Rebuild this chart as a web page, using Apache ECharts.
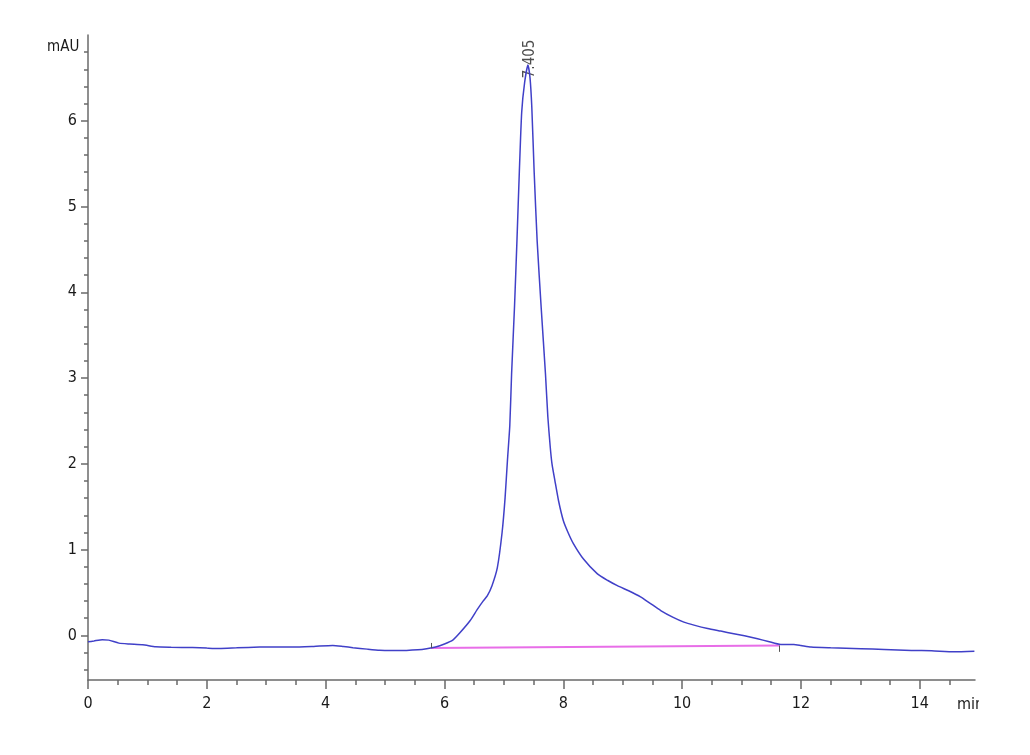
<!DOCTYPE html>
<html><head><meta charset="utf-8">
<script src="https://cdn.jsdelivr.net/npm/echarts@6/dist/echarts.min.js"></script>
<style>html,body{margin:0;padding:0;background:#fff}#c{width:1030px;height:755px}</style>
</head><body><div id="c"></div>
<script>
// ---- data ----
const timeMin = [0.00,0.10,0.24,0.35,0.52,0.70,0.92,1.14,1.40,1.76,2.00,2.21,2.50,2.89,3.20,3.45,3.80,4.12,4.30,4.46,4.70,4.91,5.10,5.36,5.55,5.70,5.85,6.00,6.14,6.26,6.43,6.55,6.65,6.72,6.80,6.89,6.97,7.02,7.06,7.10,7.13,7.18,7.22,7.26,7.30,7.35,7.405,7.44,7.47,7.51,7.56,7.63,7.70,7.74,7.78,7.81,7.86,7.92,8.00,8.08,8.17,8.34,8.57,8.75,8.91,9.10,9.30,9.45,9.64,9.85,10.03,10.20,10.43,10.65,10.87,11.05,11.27,11.45,11.66,11.88,12.00,12.17,12.50,13.01,13.40,13.86,14.20,14.58,14.92];
const signalMAU = [-0.075,-0.065,-0.05,-0.055,-0.09,-0.10,-0.108,-0.132,-0.138,-0.142,-0.148,-0.152,-0.145,-0.136,-0.135,-0.136,-0.128,-0.118,-0.13,-0.143,-0.16,-0.173,-0.176,-0.175,-0.168,-0.155,-0.135,-0.10,-0.055,0.03,0.17,0.30,0.40,0.46,0.58,0.79,1.20,1.60,2.04,2.45,3.05,3.85,4.60,5.40,6.10,6.45,6.65,6.50,6.16,5.40,4.60,3.80,3.05,2.55,2.20,2.00,1.80,1.57,1.34,1.20,1.07,0.89,0.72,0.64,0.58,0.52,0.45,0.38,0.29,0.21,0.155,0.12,0.08,0.05,0.02,-0.005,-0.04,-0.07,-0.105,-0.105,-0.117,-0.136,-0.145,-0.155,-0.163,-0.175,-0.18,-0.192,-0.185];
const baselineTime = [5.77, 11.64];
const baselineMAU = [-0.148, -0.117];
const peakTime = 7.405;
const peakLabelMAU = 6.49;
const peakText = '7.405';
const xMajorTicks = [0,2,4,6,8,10,12,14];
const xMinorTicks = [0.5,1,1.5,2.5,3,3.5,4.5,5,5.5,6.5,7,7.5,8.5,9,9.5,10.5,11,11.5,12.5,13,13.5,14.5];
const yMajorTicks = [0,1,2,3,4,5,6];
const yMinorTicks = [-0.4,-0.2,0.2,0.4,0.6,0.8,1.2,1.4,1.6,1.8,2.2,2.4,2.6,2.8,3.2,3.4,3.6,3.8,4.2,4.4,4.6,4.8,5.2,5.4,5.6,5.8,6.2,6.4,6.6,6.8];
const xRange = [0, 14.93];
const yRange = [-0.52, 7];
const yUnit = 'mAU';
const xUnit = 'min';

const FONT = '"Liberation Sans Narrow","DejaVu Sans Condensed","Liberation Sans",Arial,sans-serif';
const AX = '#6a6a6a';
const chart = echarts.init(document.getElementById('c'), null, {renderer:'canvas'});
const trace = timeMin.map((t,i)=>[t, signalMAU[i]]);
const baseline = baselineTime.map((t,i)=>[t, baselineMAU[i]]);

chart.setOption({
  backgroundColor:'#fff',
  animation:false,
  grid:{left:88, right:55, top:35, bottom:75},
  xAxis:[
    {type:'value', position:'bottom', min:xRange[0], max:xRange[1],
     axisLine:{onZero:false, lineStyle:{color:AX, width:1.5}},
     axisTick:{customValues:xMajorTicks, length:9, lineStyle:{color:AX, width:1.5}},
     axisLabel:{customValues:xMajorTicks, fontSize:16, color:'#1a1a1a', margin:16, fontFamily:FONT},
     splitLine:{show:false}},
    {type:'value', position:'bottom', min:xRange[0], max:xRange[1],
     axisLine:{show:false, onZero:false},
     axisTick:{customValues:xMinorTicks, length:5, lineStyle:{color:AX, width:1.5}},
     axisLabel:{show:false}, splitLine:{show:false}}
  ],
  yAxis:[
    {type:'value', position:'left', min:yRange[0], max:yRange[1],
     axisLine:{show:true, onZero:false, lineStyle:{color:AX, width:1.5}},
     axisTick:{show:true, customValues:yMajorTicks, length:7, lineStyle:{color:AX, width:1.5}},
     axisLabel:{customValues:yMajorTicks, fontSize:16, color:'#1a1a1a', margin:11, fontFamily:FONT},
     splitLine:{show:false}},
    {type:'value', position:'left', min:yRange[0], max:yRange[1],
     axisLine:{show:false, onZero:false},
     axisTick:{show:true, customValues:yMinorTicks, length:4, lineStyle:{color:AX, width:1.5}},
     axisLabel:{show:false}, splitLine:{show:false}}
  ],
  graphic:[
    {type:'text', left:47, top:40, style:{text:yUnit, font:'15px '+FONT, fill:'#1a1a1a'}},
    {type:'text', left:957, top:697, z:10, style:{text:xUnit, font:'16px '+FONT, fill:'#1a1a1a'}},
    {type:'rect', left:979, top:694, z:11, shape:{width:20, height:22}, style:{fill:'#fff'}}
  ],
  series:[
    {type:'line', xAxisIndex:0, yAxisIndex:0, data:baseline, showSymbol:false, silent:true,
     lineStyle:{color:'#e86ee8', width:2},
     markLine:{symbol:'none', silent:true, label:{show:false},
       lineStyle:{color:'#555', width:1, type:'solid'},
       data:[
         [{coord:[baselineTime[0], baselineMAU[0]]},{coord:[baselineTime[0], baselineMAU[0]+0.06]}],
         [{coord:[baselineTime[1], baselineMAU[1]]},{coord:[baselineTime[1], baselineMAU[1]-0.075]}]
       ]}},
    {type:'line', xAxisIndex:0, yAxisIndex:0, data:trace, showSymbol:false, smooth:0.2,
     lineStyle:{color:'#4040c8', width:1.5}},
    {type:'scatter', xAxisIndex:0, yAxisIndex:0, data:[[peakTime, peakLabelMAU]], symbolSize:1,
     itemStyle:{color:'rgba(0,0,0,0)'}, silent:true,
     label:{show:true, formatter:peakText, position:[0,0], rotate:90, align:'left', verticalAlign:'middle',
       offset:[0,3], fontSize:15, color:'#222', fontFamily:FONT}}
  ]
});
</script></body></html>
